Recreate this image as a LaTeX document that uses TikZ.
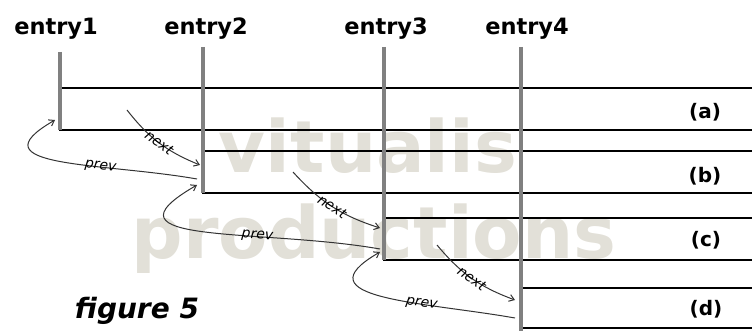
\documentclass[tikz,border=0pt]{standalone}
\usepackage{fontspec}
\usetikzlibrary{arrows.meta}

\newfontfamily\dvsans{DejaVu Sans}
\definecolor{wmark}{RGB}{226,224,216}

\tikzset{
	entry/.style={font=\dvsans\bfseries\fontsize{22.5}{22.5}\selectfont, anchor=base, inner sep=0pt},
	slot/.style={draw=black, line width=2.8pt, anchor=north west, minimum height=42, outer sep=0pt, inner sep=0pt},
	rail/.style={draw=black!50, line width=4pt},
	slotname/.style={font=\dvsans\bfseries\fontsize{20}{20}\selectfont, inner sep=0pt},
	link/.style={->, draw=black!80, line width=1pt},
	tag/.style={font=\dvsans\itshape\fontsize{14}{14}\selectfont, sloped, inner sep=0pt},
	prevlink/.style={out=170, in=210, looseness=1.6},
}

\begin{document}
\begin{tikzpicture}[x=1pt, y=1pt, >={Straight Barb[length=5pt, width=7pt]}]
	
	\useasboundingbox (0, 0) rectangle (752, -331);
	\clip (0, 0) rectangle (752, -331);
	
	\node[font=\dvsans\bfseries\fontsize{72}{72}\selectfont, text=wmark, anchor=base, inner sep=0pt] at (368, -173) (wm1) {vitualis};
	\node[font=\dvsans\bfseries\fontsize{72}{72}\selectfont, text=wmark, anchor=base, inner sep=0pt] at (374, -258) (wm2) {productions};
	
	\node[slot, minimum width=700] at (60, -88) (a) {};
	\node[slot, minimum width=560] at (203, -151) (b) {};
	\node[slot, minimum width=380] at (384, -218) (c) {};
	\node[slot, minimum width=240, minimum height=40] at (521, -288) (d) {};
	
	\node[entry] at (56, -35) (entry1) {entry1};
	\node[entry] at (206, -35) (entry2) {entry2};
	\node[entry] at (386, -35) (entry3) {entry3};
	\node[entry] at (527, -35) (entry4) {entry4};
	
	\coordinate (top1) at (60, -52);
	\coordinate (top2) at (203, -47);
	\coordinate (top3) at (384, -47);
	\coordinate (top4) at (521, -47);
	\coordinate (foot4) at (521, -331);
	
	\draw[rail] (top1) -- (a.south west);
	\draw[rail] (top2) -- (b.south west);
	\draw[rail] (top3) -- (c.south west);
	\draw[rail] (top4) -- (foot4);
	
	\node[slotname] at (705, -112) (na) {(a)};
	\node[slotname] at (705, -176) (nb) {(b)};
	\node[slotname] at (706, -240) (nc) {(c)};
	\node[slotname] at (706, -309) (nd) {(d)};
	
	\draw[link] ([xshift=67, yshift=20]a.south west) to[bend right=15] node[tag] {next} ([xshift=-3, yshift=-14]b.north west);
	\draw[link] ([xshift=90, yshift=21]b.south west) to[bend right=15] node[tag] {next} ([xshift=-4, yshift=-10]c.north west);
	\draw[link] ([xshift=53, yshift=15]c.south west) to[bend right=15] node[tag] {next} ([xshift=-6, yshift=-12]d.north west);
	
	\draw[link] ([xshift=-6, yshift=14]b.south west) to[prevlink] node[tag, pos=0.33] {prev} ([xshift=-5, yshift=10]a.south west);
	\draw[link] ([xshift=-4, yshift=11]c.south west) to[prevlink] node[tag, pos=0.33] {prev} ([xshift=-6, yshift=8]b.south west);
	\draw[link] ([xshift=-6, yshift=10]d.south west) to[prevlink] node[tag, pos=0.33] {prev} ([xshift=-4, yshift=8]c.south west);
	
	\node[font=\dvsans\bfseries\itshape\fontsize{28}{28}\selectfont, anchor=base, inner sep=0pt] at (137, -318) (caption) {figure 5};
	
\end{tikzpicture}
\end{document}
